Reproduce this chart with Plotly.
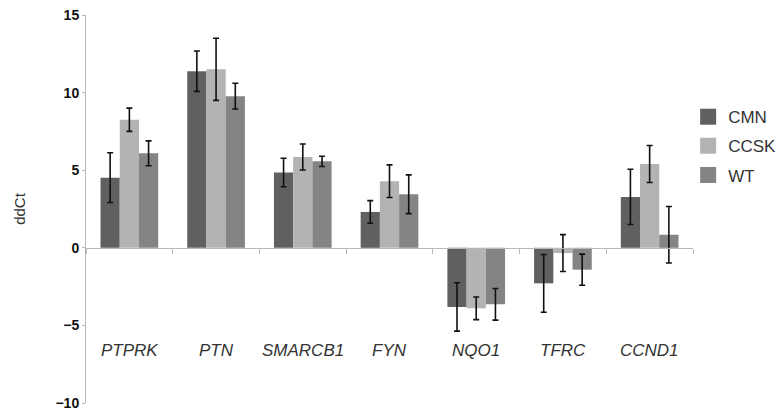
import plotly.graph_objects as go

genes = ["PTPRK", "PTN", "SMARCB1", "FYN", "NQO1", "TFRC", "CCND1"]
series = ["CMN", "CCSK", "WT"]

cmn = [4.52, 11.38, 4.85, 2.31, -3.81, -2.29, 3.28]
cmn_err = [1.6, 1.3, 0.92, 0.73, 1.56, 1.86, 1.78]
ccsk = [8.25, 11.5, 5.85, 4.29, -3.9, -0.34, 5.4]
ccsk_err = [0.75, 2.0, 0.84, 1.05, 0.73, 1.19, 1.19]
wt = [6.09, 9.77, 5.57, 3.45, -3.64, -1.41, 0.84]
wt_err = [0.8, 0.83, 0.33, 1.25, 1.02, 1.0, 1.82]

values = [cmn, ccsk, wt]
errors = [cmn_err, ccsk_err, wt_err]
colors = ["#606060", "#b3b3b3", "#848484"]

y_ticks = [-10, -5, 0, 5, 10, 15]
label_y = -6.6

fig = go.Figure()
for i, name in enumerate(series):
    fig.add_trace(go.Bar(
        x=genes, y=values[i], name=name,
        marker=dict(color=colors[i], line=dict(width=0)),
        error_y=dict(type="data", array=errors[i], visible=True,
                     color="#111111", thickness=1.6, width=3),
        showlegend=False,
    ))
# legend entries with larger square swatches
for i, name in enumerate(series):
    fig.add_trace(go.Scatter(
        x=[None], y=[None], mode="markers", name=name,
        marker=dict(symbol="square", size=19, color=colors[i]),
        legendgroup=name, showlegend=True,
    ))

for g in genes:
    fig.add_annotation(x=g, y=label_y, xref="x", yref="y", text=f"<i>{g}</i>",
                       showarrow=False,
                       font=dict(family="Liberation Sans, Arial", size=17, color="#333333"))

fig.update_layout(
    width=783, height=416,
    margin=dict(l=86, r=90, t=15, b=13, autoexpand=False),
    paper_bgcolor="white", plot_bgcolor="white",
    barmode="group", bargap=0.335, bargroupgap=0,
    font=dict(family="Liberation Sans, Arial", color="#333333"),
    showlegend=True,
    legend=dict(x=0.992, y=0.783, xanchor="left", yanchor="top",
                font=dict(size=17, color="#333333"),
                traceorder="grouped", tracegroupgap=4,
                itemsizing="trace", itemwidth=30, bgcolor="rgba(0,0,0,0)"),
    xaxis=dict(
        type="category", categoryorder="array", categoryarray=genes,
        anchor="free", position=0.4,
        showline=True, linecolor="#b8b8b8", linewidth=1,
        ticks="outside", tickson="boundaries", ticklen=5, tickcolor="#b8b8b8",
        showticklabels=False, showgrid=False, zeroline=False, automargin=False,
    ),
    yaxis=dict(
        range=[-10, 15], tickvals=y_ticks,
        showline=True, linecolor="#b8b8b8", linewidth=1,
        ticks="outside", ticklen=3, tickcolor="#b8b8b8",
        showgrid=False, zeroline=False, automargin=False,
        tickfont=dict(family="Liberation Sans, Arial", size=14, color="#111111", weight="bold"),
        title=dict(text="ddCt", standoff=26,
                   font=dict(family="Liberation Sans, Arial", size=15, color="#333333")),
    ),
)

fig.write_html("out.html")
